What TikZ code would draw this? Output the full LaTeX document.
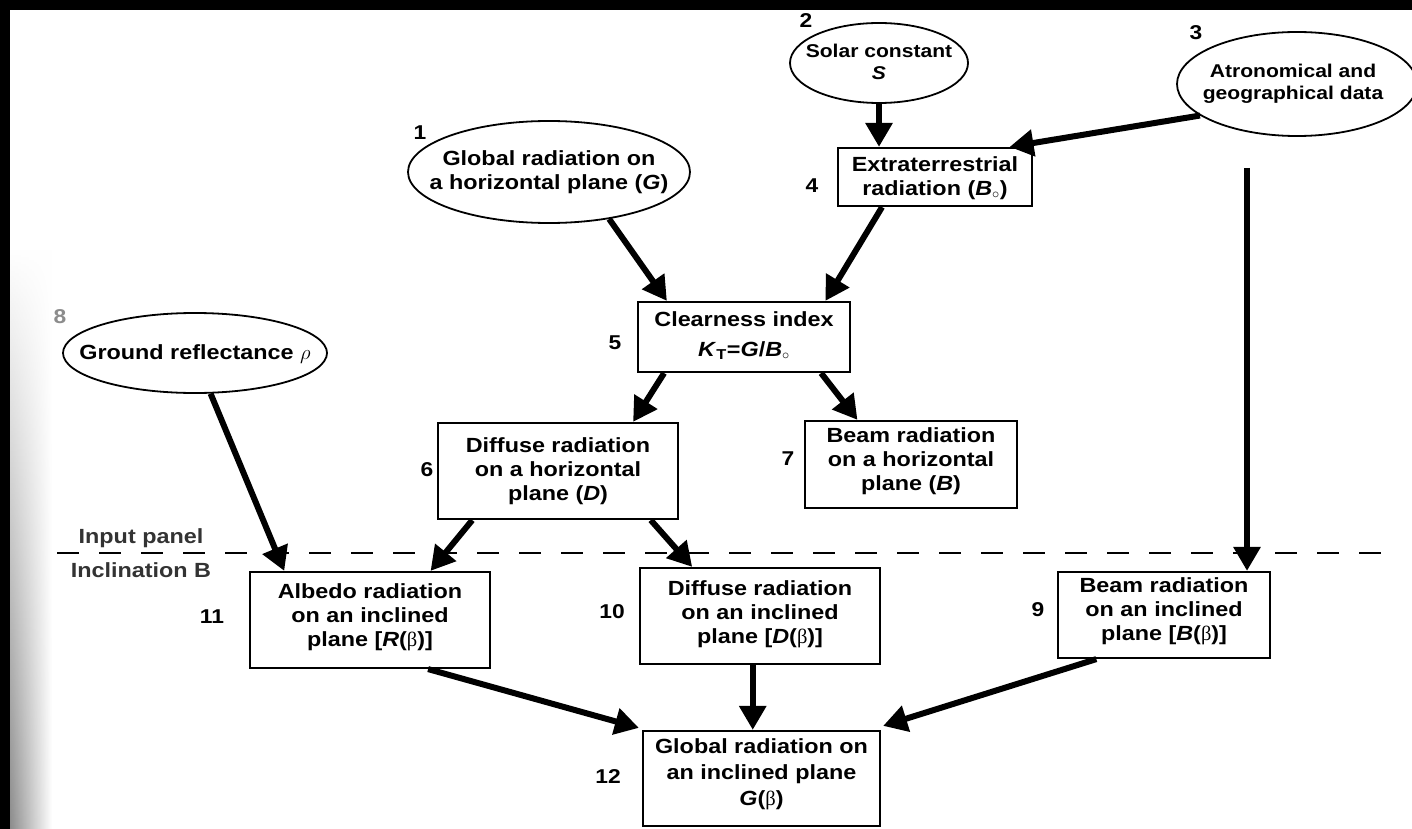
\documentclass[tikz,border=0pt]{standalone}
\usepackage{fontspec}
\setmainfont{Liberation Sans}[FakeStretch=1.14]
\newfontfamily\grk{Liberation Serif}
\usetikzlibrary{arrows.meta,shapes.geometric,calc,fadings}
\newcommand{\bet}{{\grk\mdseries β}}
\begin{document}
\begin{tikzpicture}[x=1pt,y=-1pt,
  lbl/.style={font=\fontsize{20.5}{24}\selectfont\bfseries, align=center, inner sep=0pt},
  slbl/.style={font=\fontsize{18.5}{22}\selectfont\bfseries, align=center, inner sep=0pt},
  box/.style={draw, line width=2.2pt, inner sep=0pt},
  oval/.style={draw, ellipse, line width=1.8pt, inner sep=0pt},
  num/.style={font=\fontsize{20}{24}\selectfont\bfseries, inner sep=0pt},
  arr/.style={line width=6pt, -{Triangle[length=24pt,width=26pt]}},
  dashline/.style={line width=1.6pt, dash pattern=on 22pt off 20pt},
]
\useasboundingbox (0,0) rectangle (1412,829);
\fill[white] (0,0) rectangle (1412,829);
\shade[left color=black!45, right color=white, path fading=north] (10,250) rectangle (52,829);
\fill[black] (0,0) rectangle (1412,10);
\fill[black] (0,0) rectangle (10,829);

% ellipses
\node[oval, minimum width=282pt, minimum height=102pt] (g) at (549,172) {};
\node[lbl] (gt) at (549,172) {Global radiation on\\a horizontal plane (\textit{G})};
\node[num] (n1) at (420,133) {1};

\node[oval, minimum width=178pt, minimum height=80pt] (sc) at (879,63) {};
\node[slbl] (sct) at (879,62) {Solar constant\\\textit{S}};
\node[num] (n2) at (806,21) {2};

\node[oval, minimum width=240pt, minimum height=104pt] (ag) at (1297,84) {};
\node[slbl] (agt) at (1293,84) {Atronomical and\\geographical data};
\node[num] (n3) at (1196,33) {3};

\node[oval, minimum width=264pt, minimum height=80pt] (gr) at (195,353) {};
\node[lbl] (grt) at (195,354) {Ground reflectance $\rho$};
\node[num, text=black!45] (n8) at (60,317) {8};

% boxes
\node[box, minimum width=194pt, minimum height=58pt] (et) at (935,177) {};
\node[lbl] (ett) at (935,178) {Extraterrestrial\\radiation (\textit{B}$_{\circ}$)};
\node[num] (n4) at (812,186) {4};

\node[box, minimum width=212pt, minimum height=70pt] (ci) at (744,337) {};
\node[lbl, font=\fontsize{20.5}{30}\selectfont\bfseries] (cit) at (744,336) {Clearness index\\\textit{K}\textsubscript{T}=\textit{G}/\textit{B}$_{\circ}$};
\node[num] (n5) at (615,343) {5};

\node[box, minimum width=240pt, minimum height=96pt] (dh) at (558,471) {};
\node[lbl] (dht) at (558,471) {Diffuse radiation\\on a horizontal\\plane (\textit{D})};
\node[num] (n6) at (427,470) {6};

\node[box, minimum width=212pt, minimum height=87pt] (bh) at (911,464.5) {};
\node[lbl] (bht) at (911,461) {Beam radiation\\on a horizontal\\plane (\textit{B})};
\node[num] (n7) at (788,459) {7};

\node[box, minimum width=240pt, minimum height=96pt] (ar) at (370,620) {};
\node[lbl] (art) at (370,617) {Albedo radiation\\on an inclined\\plane [\textit{R}(\bet)]};
\node[num] (n11) at (212,617) {11};

\node[box, minimum width=240pt, minimum height=96pt] (di) at (760,616) {};
\node[lbl] (dit) at (760,614) {Diffuse radiation\\on an inclined\\plane [\textit{D}(\bet)]};
\node[num] (n10) at (612,612) {10};

\node[box, minimum width=212pt, minimum height=86pt] (bi) at (1164,615) {};
\node[lbl] (bit) at (1164,611) {Beam radiation\\on an inclined\\plane [\textit{B}(\bet)]};
\node[num] (n9) at (1038,610) {9};

\node[box, minimum width=237pt, minimum height=95pt] (gi) at (761.5,778.5) {};
\node[lbl, font=\fontsize{20.5}{26}\selectfont\bfseries] (git) at (761.5,774) {Global radiation on\\an inclined plane\\\textit{G}(\bet)};
\node[num] (n12) at (608,777) {12};

% dashed separator
\coordinate (dl1) at (57,553);
\coordinate (dl2) at (1390,553);
\draw[dashline] (dl1) -- (dl2);
\node[lbl, text=black!80] (ip) at (141,538) {Input panel};
\node[lbl, text=black!80] (ib) at (141,570) {Inclination B};

% arrows
\draw[arr] (g.-38) -- ($(ci.north west)!0.14!(ci.north east)$);
\draw[arr] (sc.south) -- (sc.south |- et.north);
\draw[arr] (ag.-162) -- ($(et.north west)!0.88!(et.north east)$);
\coordinate (agtail) at (1247,168);
\draw[arr] (agtail) -- (agtail |- bi.north);
\draw[arr] ($(et.south west)!0.23!(et.south east)$) -- ($(ci.north west)!0.88!(ci.north east)$);
\draw[arr] ($(ci.south west)!0.127!(ci.south east)$) -- ($(dh.north west)!0.81!(dh.north east)$);
\draw[arr] ($(ci.south west)!0.86!(ci.south east)$) -- ($(bh.north west)!0.25!(bh.north east)$);
\draw[arr] (gr.-69) -- ($(ar.north west)!0.146!(ar.north east)$);
\draw[arr] ($(dh.south west)!0.146!(dh.south east)$) -- ($(ar.north west)!0.75!(ar.north east)$);
\draw[arr] ($(dh.south west)!0.883!(dh.south east)$) -- ($(di.north west)!0.22!(di.north east)$);
\draw[arr] ($(ar.south west)!0.74!(ar.south east)$) -- ([shift={(-3pt,2pt)}]gi.north west);
\coordinate (dis) at ($(di.south west)!0.47!(di.south east)$);
\draw[arr] (dis) -- (dis |- gi.north);
\draw[arr] ($(bi.south west)!0.184!(bi.south east)$) -- ([shift={(2pt,4pt)}]gi.north east);
\end{tikzpicture}
\end{document}
